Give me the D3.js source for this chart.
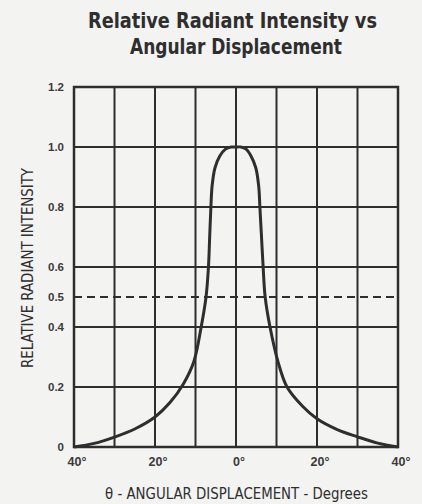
<!DOCTYPE html>
<html>
<head>
<meta charset="utf-8">
<script src="https://cdn.jsdelivr.net/npm/d3@7"></script>
<style>
  html, body { margin: 0; padding: 0; background: #f3f3f2; }
  svg { display: block; }
</style>
</head>
<body>
<svg id="chart" width="422" height="504"></svg>
<script>
// ---- data ----
const titleLines = ["Relative Radiant Intensity vs", "Angular Displacement"];
const yAxisTitle = "RELATIVE RADIANT INTENSITY";
const xAxisTitle = "θ - ANGULAR DISPLACEMENT - Degrees";

const xGridValues = [-40, -30, -20, -10, 0, 10, 20, 30, 40];
const xTickValues = [-40, -20, 0, 20, 40];
const xTickLabels = ["40°", "20°", "0°", "20°", "40°"];

const yGridValues = [0, 0.2, 0.4, 0.6, 0.8, 1.0, 1.2];
const yTickValues = [0, 0.2, 0.4, 0.5, 0.6, 0.8, 1.0, 1.2];
const yTickLabels = ["0", "0.2", "0.4", "0.5", "0.6", "0.8", "1.0", "1.2"];
const halfPowerLevel = 0.5;

const angleDeg = [-40, -35, -30, -25, -20, -16.3, -13, -10.4, -8.6, -7.4, -6.8, -6.5, -6.2, -5.9, -5.2, -4, -2.6, -1.2, 0,
                  1.2, 2.5, 3.7, 4.9, 5.6, 5.9, 6.3, 6.7, 7.2, 8.4, 10.4, 12.6, 16.5, 20, 25, 30, 35, 40];
const intensity = [0, 0.012, 0.033, 0.06, 0.10, 0.148, 0.21, 0.285, 0.40, 0.50, 0.60, 0.70, 0.80, 0.87, 0.93, 0.97, 0.993, 1.0, 1.0,
                   1.0, 0.993, 0.97, 0.93, 0.87, 0.80, 0.70, 0.60, 0.50, 0.40, 0.283, 0.20, 0.135, 0.094, 0.058, 0.034, 0.013, 0];

// ---- drawing ----
const ink = "#2e2e2e";
const svg = d3.select("#chart");
const x = d3.scaleLinear().domain([-40, 40]).range([74, 398]);
const y = d3.scaleLinear().domain([0, 1.2]).range([447, 87]);

const condensed = "'Liberation Sans Narrow','DejaVu Sans Condensed','Arial Narrow',sans-serif";
const plain = "'Liberation Sans','Helvetica',Arial,sans-serif";

// title
const titleSpecs = [{x: 88, yb: 28, w: 289}, {x: 130, yb: 54, w: 212}];
svg.selectAll("text.title").data(titleLines).enter().append("text")
  .attr("class", "title")
  .attr("x", (d, i) => titleSpecs[i].x)
  .attr("y", (d, i) => titleSpecs[i].yb)
  .attr("textLength", (d, i) => titleSpecs[i].w)
  .attr("lengthAdjust", "spacingAndGlyphs")
  .style("font-family", condensed)
  .style("font-weight", "bold")
  .style("font-size", "22px")
  .style("fill", ink)
  .text(d => d);

// grid
const g = svg.append("g");
g.selectAll("line.vg").data(xGridValues).enter().append("line")
  .attr("x1", d => x(d)).attr("x2", d => x(d))
  .attr("y1", y(0)).attr("y2", y(1.2))
  .attr("stroke", ink).attr("stroke-width", 2);
g.selectAll("line.hg").data(yGridValues).enter().append("line")
  .attr("x1", x(-40)).attr("x2", x(40))
  .attr("y1", d => y(d)).attr("y2", d => y(d))
  .attr("stroke", ink).attr("stroke-width", 2);
// frame
g.append("rect")
  .attr("x", x(-40)).attr("y", y(1.2))
  .attr("width", x(40) - x(-40)).attr("height", y(0) - y(1.2))
  .attr("fill", "none").attr("stroke", ink).attr("stroke-width", 2.5);

// dashed half-power line
g.append("line")
  .attr("x1", x(-40)).attr("x2", x(40))
  .attr("y1", y(halfPowerLevel)).attr("y2", y(halfPowerLevel))
  .attr("stroke", ink).attr("stroke-width", 2)
  .attr("stroke-dasharray", "8,5");

// curve
const pts = angleDeg.map((a, i) => [a, intensity[i]]);
g.append("path")
  .datum(pts)
  .attr("d", d3.line().x(d => x(d[0])).y(d => y(d[1])).curve(d3.curveCatmullRom.alpha(0.5)))
  .attr("fill", "none").attr("stroke", ink).attr("stroke-width", 3)
  .attr("stroke-linejoin", "round");

// y tick labels
svg.selectAll("text.yt").data(yTickValues).enter().append("text")
  .attr("x", 64)
  .attr("y", d => y(d))
  .attr("dy", "0.35em")
  .attr("text-anchor", "end")
  .style("font-family", plain)
  .style("font-size", "11.5px")
  .style("font-weight", "bold")
  .style("fill", "#3a3a3a")
  .text((d, i) => yTickLabels[i]);

// x tick labels
svg.selectAll("text.xt").data(xTickValues).enter().append("text")
  .attr("x", d => x(d) + 3)
  .attr("y", 466)
  .attr("text-anchor", "middle")
  .style("font-family", plain)
  .style("font-size", "12.5px")
  .style("font-weight", "bold")
  .style("fill", "#3a3a3a")
  .text((d, i) => xTickLabels[i]);

// x axis title
svg.append("text")
  .attr("x", 105).attr("y", 499)
  .attr("textLength", 263).attr("lengthAdjust", "spacingAndGlyphs")
  .style("font-family", condensed)
  .style("font-size", "15px")
  .style("font-weight", "500")
  .style("fill", ink)
  .text(xAxisTitle);

// y axis title
svg.append("text")
  .attr("transform", "translate(33,368) rotate(-90)")
  .attr("x", 0).attr("y", 0)
  .attr("textLength", 200).attr("lengthAdjust", "spacingAndGlyphs")
  .style("font-family", condensed)
  .style("font-size", "15px")
  .style("font-weight", "500")
  .style("fill", ink)
  .text(yAxisTitle);
</script>
</body>
</html>
